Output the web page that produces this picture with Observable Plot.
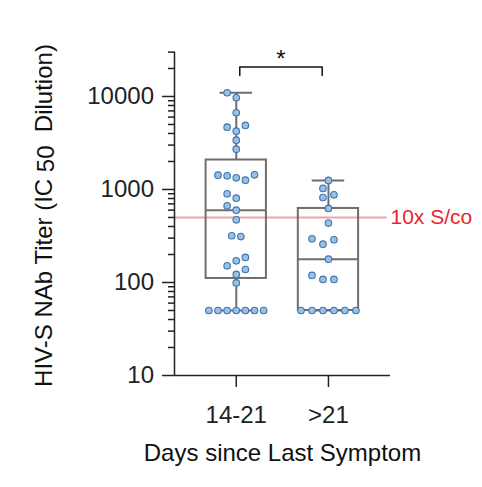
<!DOCTYPE html>
<html>
<head>
<meta charset="utf-8">
<script src="https://cdn.jsdelivr.net/npm/d3@7"></script>
<script src="https://cdn.jsdelivr.net/npm/@observablehq/plot@0.6"></script>
<style>
  html, body { margin: 0; padding: 0; background: #fff; }
</style>
</head>
<body>
<div id="chart"></div>
<script>
// ---- data ----
const groups = ["14-21", ">21"];
const titer14to21 = [10960, 9690, 6680, 4680, 4880, 4240, 3390, 2710,
  1426, 1404, 1336, 1259, 1439, 899, 806, 668, 599, 472, 318, 312,
  171, 186, 151, 138, 122, 99, 50, 50, 50, 50, 50, 50, 50];
const swarm14to21 = [-1, 0, 0, -1, 1, 0, 0, 0,
  -2, -1, 0, 1, 2, -1, 0, -1, 0, 0, -0.5, 0.5,
  0, 1, -1, 1, 0, 0, -3, -2, -1, 0, 1, 2, 3];
const titerOver21 = [1250, 1026, 820, 877, 625, 435, 295, 258, 288,
  178, 119, 108, 108, 50, 50, 50, 50, 50, 50];
const swarmOver21 = [0, -0.5, -0.5, 0.5, 0, 0, -1.5, -0.5, 0.5,
  0, -1.5, -0.5, 0.5, -2.5, -1.5, -0.5, 0.5, 1.5, 2.5];
const yMajorTicks = [10, 100, 1000, 10000];
const yMinorTicks = [20, 30, 40, 50, 60, 70, 80, 90, 200, 300, 400, 500, 600, 700, 800, 900,
  2000, 3000, 4000, 5000, 6000, 7000, 8000, 9000, 20000, 30000];
const thresholdValue = [500];
const thresholdLabel = "10x S/co";
const significance = "*";
const xTitle = "Days since Last Symptom";

// ---- derived tables ----
const swarmStep = [0.099, 0.119];
const series = [titer14to21, titerOver21];
const swarms = [swarm14to21, swarmOver21];
const points = [];
series.forEach((vals, g) => vals.forEach((v, k) => points.push({i: g + 1, value: v, slot: swarms[g][k]})));

function quantileN1(sorted, p) { // (n+1) method
  const n = sorted.length, h = (n + 1) * p, lo = Math.floor(h);
  if (h <= 1) return sorted[0];
  if (h >= n) return sorted[n - 1];
  return sorted[lo - 1] + (h - lo) * (sorted[lo] - sorted[lo - 1]);
}
const stats = series.map((vals, g) => {
  const s = vals.slice().sort((a, b) => a - b);
  return {i: g + 1, min: s[0], max: s[s.length - 1],
    q1: quantileN1(s, 0.25), med: quantileN1(s, 0.5), q3: quantileN1(s, 0.75)};
});
const bracket = [{x: 1.038, y: 16800}, {x: 1.038, y: 20700}, {x: 1.932, y: 20700}, {x: 1.932, y: 16800}];

const boxHalf = 0.327, capHalf = 0.176;
const boxColor = "#6e6e6e";
const font = "'Liberation Sans', Arial, Helvetica, sans-serif";

const svg = Plot.plot({
  width: 482,
  height: 487,
  marginLeft: 174,
  marginRight: 92,
  marginTop: 51.6,
  marginBottom: 112,
  style: {fontFamily: font, fontSize: "24px", color: "#222", background: "#fff"},
  x: {type: "linear", domain: [0.33, 2.673]},
  y: {type: "log", domain: [10, 30000]},
  marks: [
    Plot.ruleY(thresholdValue, {x1: 0.33, x2: 2.637, stroke: "#f0a3a3", strokeWidth: 2.2}),
    Plot.text(thresholdValue, {y: d => d, x: 2.673, text: () => thresholdLabel, textAnchor: "start",
      lineAnchor: "middle", fill: "#e8262b", fontSize: 21}),
    Plot.rect(stats, {x1: d => d.i - boxHalf, x2: d => d.i + boxHalf, y1: "q1", y2: "q3",
      fill: "none", stroke: boxColor, strokeWidth: 2}),
    Plot.ruleY(stats, {y: "med", x1: d => d.i - boxHalf, x2: d => d.i + boxHalf, stroke: boxColor, strokeWidth: 2}),
    Plot.ruleX(stats, {x: "i", y1: "q3", y2: "max", stroke: boxColor, strokeWidth: 2}),
    Plot.ruleX(stats, {x: "i", y1: "min", y2: "q1", stroke: boxColor, strokeWidth: 2}),
    Plot.ruleY(stats, {y: "max", x1: d => d.i - capHalf, x2: d => d.i + capHalf, stroke: boxColor, strokeWidth: 2}),
    Plot.ruleY(stats, {y: "min", x1: d => d.i - capHalf, x2: d => d.i + capHalf, stroke: boxColor, strokeWidth: 2}),
    Plot.dot(points, {x: d => d.i + d.slot * swarmStep[d.i - 1], y: "value", r: 3.3,
      fill: "#9dbfe2", stroke: "#3b76b2", strokeWidth: 1.1}),
    Plot.line(bracket, {x: "x", y: "y", stroke: "#111", strokeWidth: 1.5}),
    Plot.text([significance], {x: (1.038 + 1.932) / 2, y: 20700, text: d => d, lineAnchor: "bottom",
      fontSize: 24, fill: "#111"}),
    Plot.ruleY([10], {stroke: "#222", strokeWidth: 1.5}),
    Plot.ruleX([0.33], {y1: 10, y2: 30000, stroke: "#222", strokeWidth: 1.5}),
    Plot.axisY({ticks: yMajorTicks, tickSize: 12, tickPadding: 8.5, tickFormat: d => String(d),
      strokeWidth: 1.5, label: null}),
    Plot.axisY({ticks: yMinorTicks, tickSize: 6, tickFormat: () => "", strokeWidth: 1.5, label: null}),
    Plot.axisX({ticks: [1, 2], tickFormat: i => groups[i - 1], tickSize: 12, tickPadding: 18.7,
      strokeWidth: 1.5, label: null}),
    Plot.text([xTitle], {frameAnchor: "bottom", dy: 78, text: d => d, lineAnchor: "middle", fontSize: 24, fill: "#111"})
  ]
});

// y-axis title with subscript
const t = d3.select(svg).append("text")
  .attr("transform", "translate(51.7,215.5) rotate(-90)")
  .attr("text-anchor", "middle")
  .attr("fill", "#111")
  .style("font-size", "24px")
  .style("white-space", "pre");
t.append("tspan").text("HIV-S NAb Titer (IC");
t.append("tspan").attr("dy", 2).text(" 50");
t.append("tspan").attr("dy", -2).text("  Dilution)");

document.getElementById("chart").appendChild(svg);
</script>
</body>
</html>
